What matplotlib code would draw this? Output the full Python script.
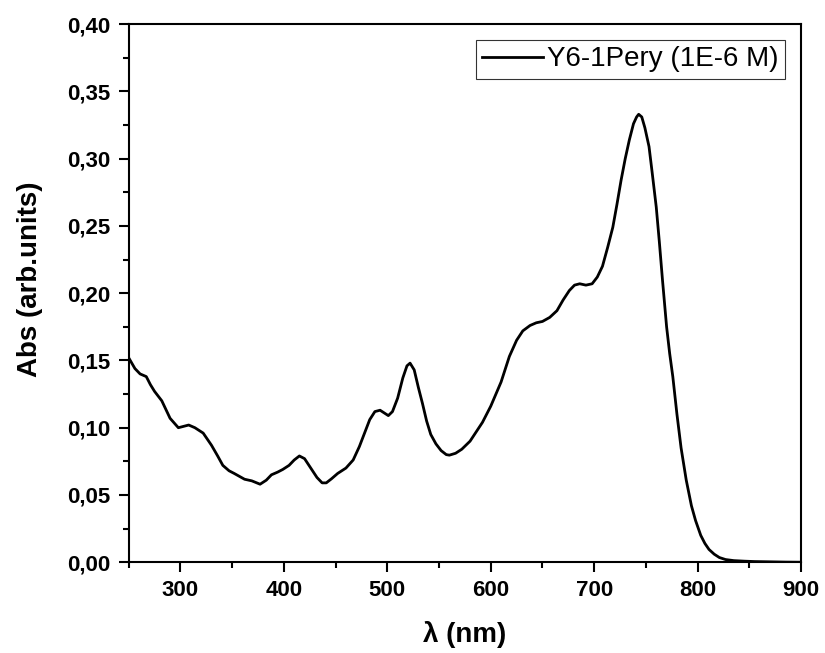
import matplotlib
matplotlib.use('Agg')
import matplotlib.pyplot as plt
from matplotlib.ticker import MultipleLocator, FuncFormatter

# values
wavelength = [250, 253, 256, 261, 267, 271, 275, 282, 290, 298, 303, 308, 314, 322,
              330, 336, 341, 347, 352, 362, 369, 377, 383, 388, 394, 399, 405, 410,
              415, 420, 426, 432, 437, 441, 446, 452, 460, 467, 473, 478, 483, 488,
              493, 497, 501, 505, 510, 515, 519, 522, 526, 530, 534, 538, 542, 547,
              552, 557, 560, 566, 572, 580, 592, 600, 610, 618, 625, 631, 638, 644,
              650, 657, 664, 670, 676, 681, 686, 692, 698, 703, 708, 713, 718, 722,
              726, 730, 734, 738, 741, 743, 746, 749, 753, 756, 760, 763, 766, 770,
              773, 776, 780, 784, 789, 794, 798, 803, 807, 811, 816, 821, 827, 835,
              845, 855, 870, 885, 900]
absorbance = [0.152, 0.148, 0.144, 0.140, 0.138, 0.132, 0.127, 0.120, 0.107, 0.100, 0.101,
              0.102, 0.100, 0.096, 0.087, 0.079, 0.072, 0.068, 0.066, 0.0617, 0.0605,
              0.058, 0.061, 0.065, 0.067, 0.069, 0.072, 0.076, 0.079, 0.077, 0.070,
              0.063, 0.059, 0.059, 0.062, 0.066, 0.070, 0.076, 0.086, 0.096, 0.106,
              0.112, 0.113, 0.111, 0.109, 0.112, 0.122, 0.137, 0.146, 0.148, 0.143,
              0.130, 0.118, 0.105, 0.095, 0.088, 0.083, 0.080, 0.0796, 0.081, 0.084,
              0.090, 0.104, 0.116, 0.134, 0.153, 0.165, 0.172, 0.176, 0.178, 0.179,
              0.182, 0.187, 0.195, 0.202, 0.206, 0.207, 0.206, 0.207, 0.212, 0.220,
              0.234, 0.249, 0.266, 0.284, 0.300, 0.314, 0.326, 0.331, 0.333, 0.331,
              0.323, 0.309, 0.290, 0.264, 0.238, 0.210, 0.175, 0.155, 0.138, 0.110,
              0.085, 0.061, 0.042, 0.031, 0.020, 0.014, 0.0095, 0.0060, 0.0035, 0.0020,
              0.0012, 0.0008, 0.0005, 0.0003, 0.0001, 0.0]
series_label = 'Y6-1Pery (1E-6 M)'

plt.rcParams['font.family'] = ['Liberation Sans', 'DejaVu Sans']

fig = plt.figure(figsize=(8.25, 6.53), dpi=100)
ax = fig.add_axes([0.156, 0.139, 0.815, 0.824])

ax.plot(wavelength, absorbance, color='black', linewidth=2.0, label=series_label)

ax.set_xlim(250, 900)
ax.set_ylim(0, 0.40)
ax.xaxis.set_major_locator(MultipleLocator(100))
ax.xaxis.set_minor_locator(MultipleLocator(50))
ax.yaxis.set_major_locator(MultipleLocator(0.05))
ax.yaxis.set_minor_locator(MultipleLocator(0.025))
ax.xaxis.set_major_formatter(FuncFormatter(lambda v, p: '' if v < 300 else f'{v:.0f}'))
ax.yaxis.set_major_formatter(FuncFormatter(lambda v, p: f'{v:.2f}'.replace('.', ',')))

ax.tick_params(which='major', direction='out', length=7, width=1.5, labelsize=16, pad=6)
ax.tick_params(which='minor', direction='out', length=4, width=1.5)
for lbl in ax.get_xticklabels() + ax.get_yticklabels():
    lbl.set_fontweight('bold')
for sp in ax.spines.values():
    sp.set_linewidth(1.5)

ax.set_xlabel('λ (nm)', fontsize=20, fontweight='bold', labelpad=14)
ax.set_ylabel('Abs (arb.units)', fontsize=20, fontweight='bold')
ax.yaxis.set_label_coords(-0.128, 0.525)

leg = ax.legend(loc='upper right', fontsize=20, frameon=True, fancybox=False,
                handlelength=2.2, handletextpad=0.15, borderpad=0.22,
                borderaxespad=0, bbox_to_anchor=(0.976, 0.970))
leg.get_frame().set_edgecolor('black')
leg.get_frame().set_linewidth(0.8)

fig.savefig('out.png', dpi=100)
